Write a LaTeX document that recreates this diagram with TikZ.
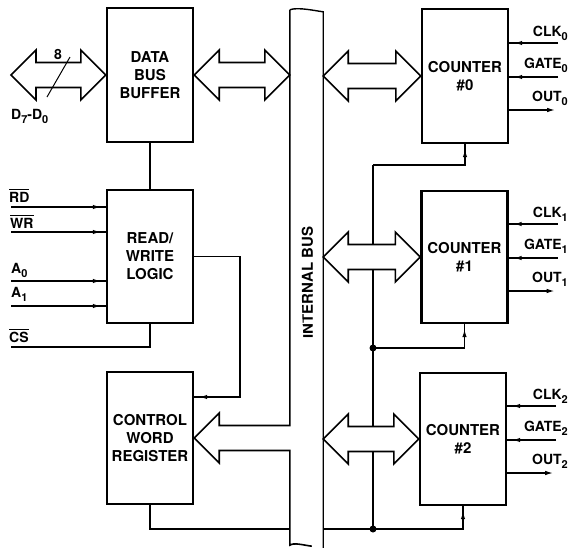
\documentclass[tikz,border=0pt]{standalone}
\usepackage{fontspec}
\setmainfont{TeX Gyre Heros}
\usetikzlibrary{calc,arrows.meta,decorations.markings}
\newcommand\lsub[1]{\raisebox{-4pt}{\fontsize{11}{11}\selectfont #1}}
\newcommand\ovl[1]{\leavevmode\vbox{\hrule height 1.3pt\kern 1.6pt\hbox{#1}}}
\newcommand\fatdbl[2]{%
  \draw[fat] (#1) -- ($(#1)+(25pt,25pt)$) -- ($(#1)+(25pt,12.5pt)$)
    -- ($(#2)+(-25pt,12.5pt)$) -- ($(#2)+(-25pt,25pt)$) -- (#2)
    -- ($(#2)+(-25pt,-25pt)$) -- ($(#2)+(-25pt,-12.5pt)$)
    -- ($(#1)+(25pt,-12.5pt)$) -- ($(#1)+(25pt,-25pt)$) -- cycle;}
\tikzset{
  box/.style={draw, line width=2.4pt, inner sep=0pt, minimum width=86pt,
    minimum height=133pt, align=center,
    font=\fontsize{15}{18}\selectfont\bfseries},
  wire/.style={line width=1.4pt},
  inarrow/.style={wire, postaction={decorate}, decoration={markings,
    mark=at position -5pt with {\arrow{Latex[length=8pt,width=4.5pt]}}}},
  outarrow/.style={wire, -{Latex[length=8pt,width=4.5pt]}},
  fat/.style={line width=1.6pt, fill=white, line join=miter},
  lab/.style={inner sep=0pt, font=\fontsize{14}{16}\selectfont\bfseries},
  jdot/.style={circle, fill, inner sep=0pt, minimum size=7pt},
}
\begin{document}
\begin{tikzpicture}[x=1pt,y=-1pt]
\useasboundingbox (0,0) rectangle (570,547);
% blocks
\node[box, minimum height=134pt] (dbb) at (150,75) {DATA\\BUS\\BUFFER};
\node[box] (rw) at (150,256.5) {READ/\\WRITE\\LOGIC};
\node[box, minimum height=132pt] (cwr) at (150,438) {CONTROL\\WORD\\REGISTER};
\node[box, minimum height=134pt] (c0) at (465,76) {COUNTER\\\#0};
\node[box, minimum height=132pt] (c1) at (464.5,257) {COUNTER\\\#1};
\node[box, minimum height=132pt] (c2) at (463,439) {COUNTER\\\#2};
% internal bus
\node[minimum width=33pt, minimum height=535pt, inner sep=0pt] (bus) at (306.5,277.5) {};
\node[lab, font=\fontsize{15}{16}\selectfont\bfseries, rotate=90] (buslab) at (307.5,282.5) {INTERNAL BUS};
\draw[wire] (bus.north west) .. controls +(8pt,3pt) and +(-8pt,1pt) .. ($(bus.north east)+(0,-2pt)$)
  -- ($(bus.south east)+(0,-3pt)$);
\draw[fat] (bus.north west) -- ($(cwr.east -| bus.west)+(0,12.5pt)$)
  -- ($(cwr.east)+(25pt,12.5pt)$) -- ($(cwr.east)+(25pt,25pt)$) -- (cwr.east)
  -- ($(cwr.east)+(25pt,-25pt)$) -- ($(cwr.east)+(25pt,-12.5pt)$)
  -- ($(cwr.east -| bus.west)+(0,-12.5pt)$) -- (bus.south west)
  .. controls +(4pt,3pt) and +(-8pt,1pt) .. ++(22pt,-1pt);
% counter clock/control lines (under the fat arrows)
\coordinate (v0) at (373,165);
\coordinate (j1) at (373,348);
\coordinate (j2) at (373,529);
\draw[wire] (v0) -- (j2);
\draw[inarrow] (v0) -| (c0.south);
\draw[inarrow] (j1) -| (c1.south);
\draw[inarrow] (j2 -| bus.east) -| (c2.south);
\draw[wire] (cwr.south) |- (j2 -| bus.west);
\node[jdot] (d1) at (j1) {};
\node[jdot] (d2) at (j2) {};
% fat arrows
\coordinate (dext) at (11,75);
\coordinate (bw0) at (dbb.east -| bus.west);
\coordinate (be0) at (c0.west -| bus.east);
\coordinate (be1) at (c1.west -| bus.east);
\coordinate (be2) at (c2.west -| bus.east);
\fatdbl{dext}{dbb.west}
\fatdbl{dbb.east}{bw0}
\fatdbl{be0}{c0.west}
\fatdbl{be1}{c1.west}
\fatdbl{be2}{c2.west}
% 8-bit slash
\coordinate (s1) at (70,57);
\coordinate (s2) at (47,97);
\draw[line width=1pt] (s1) -- (s2);
\node[lab] (eight) at (58,54) {8};
\node[lab, anchor=west] (dlab) at (11,116) {D\lsub{7}-D\lsub{0}};
% data bus buffer to read/write logic
\draw[wire] (dbb.south) -- (rw.north);
% read/write inputs
\coordinate (rdin) at (11,207);
\coordinate (wrin) at (11,232);
\coordinate (a0in) at (11,281);
\coordinate (a1in) at (11,306);
\coordinate (csin) at (11,347);
\draw[inarrow] (rdin) -- (rdin -| rw.west);
\draw[inarrow] (wrin) -- (wrin -| rw.west);
\draw[inarrow] (a0in) -- (a0in -| rw.west);
\draw[inarrow] (a1in) -- (a1in -| rw.west);
\draw[wire] (csin) -| (rw.south);
\node[lab, anchor=base west] (rdl) at (9,202) {\ovl{RD}};
\node[lab, anchor=base west] (wrl) at (10,228) {\ovl{WR}};
\node[lab, anchor=base west] (a0l) at (11,273) {A\lsub{0}};
\node[lab, anchor=base west] (a1l) at (11,297) {A\lsub{1}};
\node[lab, anchor=base west] (csl) at (9,342) {\ovl{CS}};
% read/write logic to control word register
\coordinate (rwc) at (240,397);
\draw[inarrow] (rw.east) -| (rwc) -- (rwc -| cwr.east);
% counter inputs and outputs
\foreach \i in {0,1,2} {
  \coordinate (clk\i) at ($(c\i.east)+(49pt,33pt)$);
  \coordinate (gate\i) at ($(c\i.east)+(49pt,-1pt)$);
  \coordinate (out\i) at ($(c\i.east)+(46pt,-34pt)$);
  \draw[inarrow] (clk\i) -- (clk\i -| c\i.east);
  \draw[inarrow] (gate\i) -- (gate\i -| c\i.east);
  \draw[outarrow] (out\i -| c\i.east) -- (out\i);
  \node[lab, anchor=base east] (clkl\i) at ($(clk\i -| 568,0)+(0,7pt)$) {CLK\lsub{\i}};
  \node[lab, anchor=base east] (gatel\i) at ($(gate\i -| 568,0)+(0,9pt)$) {GATE\lsub{\i}};
  \node[lab, anchor=base east] (outl\i) at ($(out\i -| 568,0)+(0,8.5pt)$) {OUT\lsub{\i}};
}
\end{tikzpicture}
\end{document}
